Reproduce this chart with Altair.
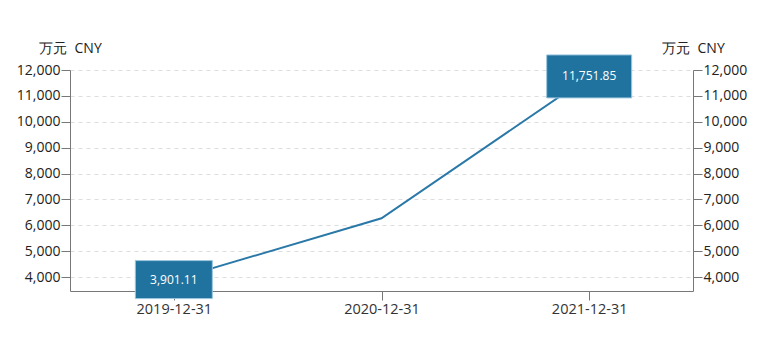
import altair as alt
import pandas as pd

dates = ["2019-12-31", "2020-12-31", "2021-12-31"]
values = [3901.11, 6270.0, 11751.85]
labels = ["3,901.11", "", "11,751.85"]

df = pd.DataFrame({"date": dates, "value": values, "label": labels})

FONT = "Open Sans"
Y_DOMAIN = [3460, 12000]
TICKS = list(range(4000, 12001, 1000))
BLUE = "#21739f"
TITLE = "万元\u00a0\u00a0CNY"

x_enc = alt.X("date:N", scale=alt.Scale(type="point", padding=0.5),
              axis=alt.Axis(title=None, labelAngle=0, labelFontSize=14.5, labelColor="#333",
                            labelFont=FONT, domainColor="#777", tickColor="#777",
                            tickSize=9, labelPadding=2, grid=False))


def yaxis(orient, grid):
    return alt.Axis(values=TICKS, format=",.0f", orient=orient, title=TITLE,
                    titleAngle=0, titleX=0, titleY=-22, titleAlign="center",
                    titleBaseline="middle", titleFontWeight="normal", titleFontSize=14,
                    titleFont=FONT, titleColor="#222",
                    labelFontSize=14, labelFont=FONT, labelColor="#222",
                    domainColor="#777", tickColor="#777", tickSize=9, grid=grid,
                    gridDash=[4, 4], gridColor="#dddddd", labelPadding=1)


y_left = alt.Y("value:Q", scale=alt.Scale(domain=Y_DOMAIN, nice=False, zero=False),
               axis=yaxis("left", True))
y_right = alt.Y("value:Q", scale=alt.Scale(domain=Y_DOMAIN, nice=False, zero=False),
                axis=yaxis("right", False))

base = alt.Chart(df)

line = base.mark_line(color="#2a78a8", strokeWidth=2).encode(x=x_enc, y=y_left)

box1 = base.transform_filter(alt.datum.date == dates[0]).mark_rect(
    width=77, height=38, color=BLUE, stroke="#9cc6de", strokeWidth=1).encode(x=x_enc, y=y_left)
box2 = base.transform_filter(alt.datum.date == dates[2]).mark_rect(
    width=85, height=43, color=BLUE, stroke="#9cc6de", strokeWidth=1).encode(x=x_enc, y=y_left)

txt = base.transform_filter(alt.datum.label != "").mark_text(
    color="white", fontSize=12, font=FONT, baseline="middle", align="center").encode(
    x=x_enc, y=y_left, text="label:N")

left_layer = alt.layer(line, box1, box2, txt)
right_layer = base.mark_line(opacity=0).encode(x=x_enc, y=y_right)

chart = alt.layer(left_layer, right_layer).resolve_scale(y="independent").properties(
    width=623, height=221,
    autosize=alt.AutoSizeParams(type="none"),
    padding={"left": 62, "top": 62, "right": 62, "bottom": 40},
).configure(background="white").configure_view(stroke=None)

chart.save("out.html", embed_options={"renderer": "svg", "actions": False})
